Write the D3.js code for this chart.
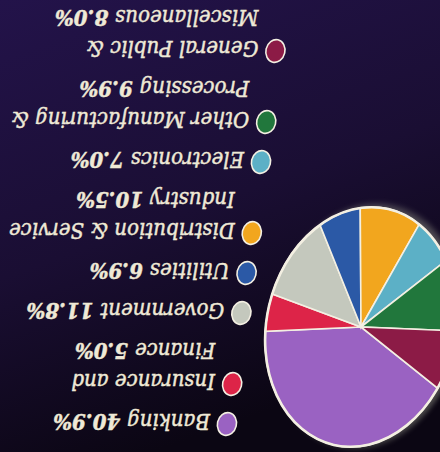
<!DOCTYPE html>
<html>
<head>
<meta charset="utf-8">
<script src="https://cdn.jsdelivr.net/npm/d3@7"></script>
<style>
  html, body { margin: 0; padding: 0; background: #140b24; }
  svg { display: block; }
</style>
</head>
<body>
<svg id="chart" width="440" height="452"></svg>
<script>
// ---- data ----
const categories = ["Banking", "Insurance and Finance", "Government", "Utilities",
  "Distribution & Service Industry", "Electronics", "Other Manufacturing & Processing",
  "General Public & Miscellaneous"];
const values = [40.9, 5.0, 11.8, 6.9, 10.5, 7.0, 9.9, 8.0];
const labelLines = [
  ["Banking"],
  ["Insurance and", "Finance"],
  ["Government"],
  ["Utilities"],
  ["Distribution & Service", "Industry"],
  ["Electronics"],
  ["Other Manufacturing &", "Processing"],
  ["General Public &", "Miscellaneous"]
];
const colors = ["#9a62c2", "#dd2448", "#c4c8bd", "#2b59a6", "#f2a61e", "#5cb0c6", "#21773c", "#8c1b46"];

// ---- drawing ----
const W = 440, H = 452;
const svg = d3.select("#chart");
const defs = svg.append("defs");
const bg = defs.append("linearGradient").attr("id", "bg")
  .attr("x1", 0).attr("y1", 0).attr("x2", 0.35).attr("y2", 1);
bg.append("stop").attr("offset", 0).attr("stop-color", "#23134a");
bg.append("stop").attr("offset", 0.55).attr("stop-color", "#1a0e33");
bg.append("stop").attr("offset", 1).attr("stop-color", "#0b0613");
defs.append("filter").attr("id", "blur").append("feGaussianBlur").attr("stdDeviation", 3);

svg.append("rect").attr("width", W).attr("height", H).attr("fill", "url(#bg)");

// pie (drawn in the picture's own frame)
const R = 121;
const pie = d3.pie().sort(null).value(d => d)
  .startAngle(110.5 * Math.PI / 180).endAngle(110.5 * Math.PI / 180 + 2 * Math.PI);
const arc = d3.arc().innerRadius(0).outerRadius(R);
const pg = svg.append("g").attr("transform", "translate(361,327) rotate(13) scale(0.78,1)");
pg.append("circle").attr("r", R + 2).attr("cx", 6).attr("cy", -2)
  .attr("fill", "#8a8a80").attr("opacity", 0.5).attr("filter", "url(#blur)");
pg.selectAll("path.slice").data(pie(values)).join("path")
  .attr("class", "slice")
  .attr("d", arc)
  .attr("fill", (d, i) => colors[i])
  .attr("stroke", "#f3efe2")
  .attr("stroke-width", 1.6)
  .attr("vector-effect", "non-scaling-stroke");
pg.append("circle").attr("r", R).attr("fill", "none")
  .attr("stroke", "#f3efe2").attr("stroke-width", 2.6)
  .attr("vector-effect", "non-scaling-stroke");

// legend (set upright, then turned half a turn like the picture)
const lg = svg.append("g").attr("transform", `rotate(180,${W / 2},${H / 2})`);
const fmt = d3.format(".1f");
const y0 = 30, pitch = 31, gap = 9, fs = 22;
let lineIdx = 0;
labelLines.forEach((lines, i) => {
  const firstY = y0 + lineIdx * pitch + i * gap;
  const tx0 = 234 - 0.13 * firstY;
  lg.append("ellipse")
    .attr("transform", `translate(${tx0 - 17},${firstY - 2}) rotate(13)`)
    .attr("rx", 9.5).attr("ry", 11.5)
    .attr("fill", colors[i]).attr("stroke", "#f3efe2").attr("stroke-width", 1.6);
  lines.forEach((ln, j) => {
    const y = y0 + lineIdx * pitch + i * gap;
    const x = 234 - 0.13 * y + (j > 0 ? 4 : 0);
    const t = lg.append("text").attr("x", x).attr("y", y + 8)
      .attr("font-family", "'DejaVu Serif Condensed', 'DejaVu Serif', serif")
      .attr("font-style", "italic")
      .attr("font-size", fs).attr("fill", "#efe9d6")
      .attr("stroke", "#efe9d6").attr("stroke-width", 0.45);
    t.append("tspan").text(ln);
    if (j === lines.length - 1) {
      t.append("tspan").attr("font-weight", "bold").text(" " + fmt(values[i]) + "%");
    }
    lineIdx++;
  });
});
</script>
</body>
</html>
